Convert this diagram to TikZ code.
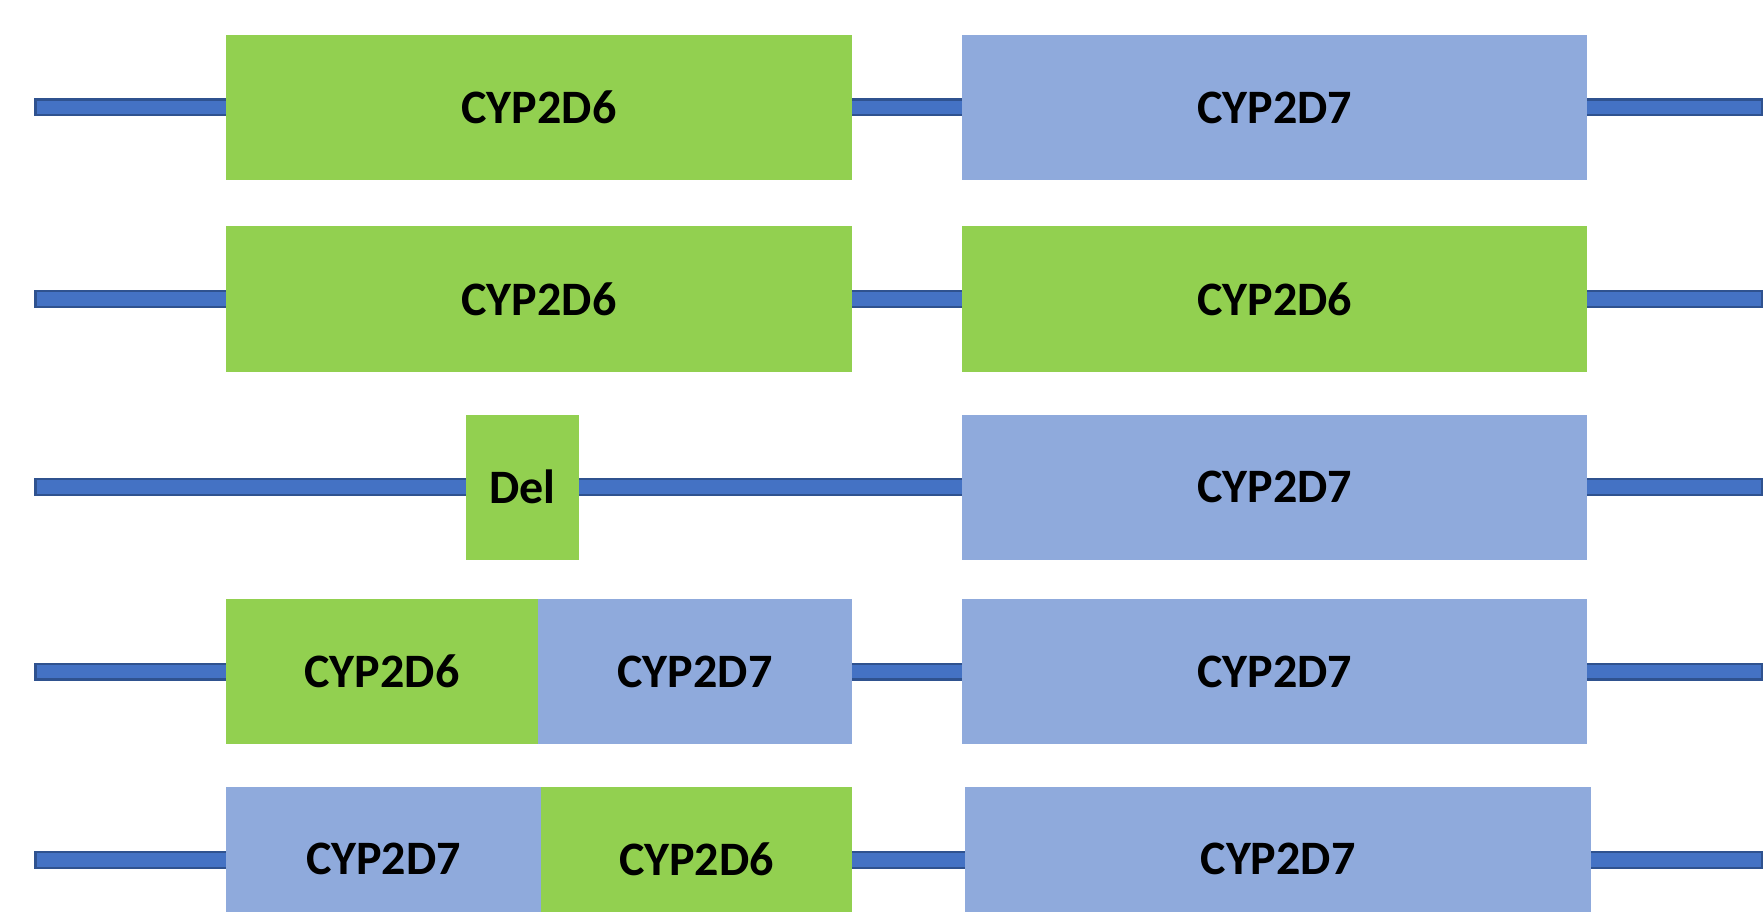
\documentclass[tikz,border=0pt]{standalone}
\usepackage{fontspec}
\setmainfont{Carlito}
\definecolor{gfill}{HTML}{92D050}
\definecolor{bfill}{HTML}{8FAADC}
\definecolor{dnafill}{HTML}{4472C4}
\definecolor{dnaedge}{HTML}{2F528F}
\tikzset{
  genebox/.style={rectangle, inner sep=0pt, draw=none, minimum height=145pt,
    font=\fontsize{48}{48}\selectfont\bfseries, text=black},
  g6/.style={genebox, fill=gfill},
  g7/.style={genebox, fill=bfill},
  dna/.style={draw=dnafill, line width=13.5pt, shorten <=2.5pt, shorten >=2.5pt,
    preaction={draw=dnaedge, line width=18pt, shorten <=0pt, shorten >=0pt}},
}
\begin{document}
\begin{tikzpicture}[x=1pt,y=-1pt]
\useasboundingbox (0,0) rectangle (1764,912);
\clip (0,0) rectangle (1764,912);
% row 1
\coordinate (L1) at (34,107.5); \coordinate (R1) at (1763,107.5);
\draw[dna] (L1) -- (R1);
\node[g6, minimum width=626pt] (a1) at (539,107.5) {CYP2D6};
\node[g7, minimum width=625pt] (b1) at (1274.5,107.5) {CYP2D7};
% row 2
\coordinate (L2) at (34,299); \coordinate (R2) at (1763,299);
\draw[dna] (L2) -- (R2);
\node[g6, minimum width=626pt] (a2) at (539,299) {CYP2D6};
\node[g6, minimum width=625pt] (b2) at (1274.5,299) {CYP2D6};
% row 3
\coordinate (L3) at (34,487); \coordinate (R3) at (1763,487);
\draw[dna] (L3) -- (R3);
\node[g6, minimum width=113pt] (a3) at (522.5,487) {Del};
\node[g7, minimum width=625pt] (b3) at (1274.5,487) {CYP2D7};
% row 4
\coordinate (L4) at (34,671.5); \coordinate (R4) at (1763,671.5);
\draw[dna] (L4) -- (R4);
\node[g6, minimum width=312pt] (a4) at (382,671.5) {\raisebox{-8pt}{CYP2D6}};
\node[g7, minimum width=314pt] (c4) at (695,671.5) {\raisebox{-8pt}{CYP2D7}};
\node[g7, minimum width=625pt] (b4) at (1274.5,671.5) {CYP2D7};
% row 5
\coordinate (L5) at (34,860); \coordinate (R5) at (1763,860);
\draw[dna] (L5) -- (R5);
\node[g7, minimum width=315pt] (a5) at (383.5,859) {\raisebox{-7pt}{CYP2D7}};
\node[g6, minimum width=311pt] (c5) at (696.5,859) {\raisebox{-7pt}{CYP2D6}};
\node[g7, minimum width=626pt] (b5) at (1278,859) {CYP2D7};
\end{tikzpicture}
\end{document}
